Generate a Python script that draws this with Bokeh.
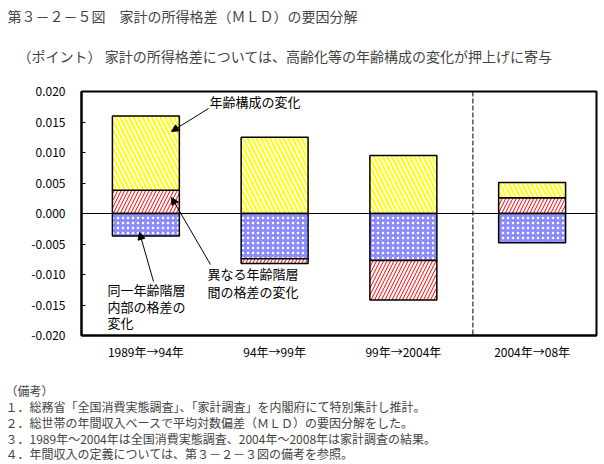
from bokeh.plotting import figure
from bokeh.models import Label, Arrow, NormalHead, Span, FixedTicker, PrintfTickFormatter, Range1d, Title
from bokeh.embed import file_html
from bokeh.resources import INLINE
import numpy as np

FONT = "Noto Sans CJK JP"

categories = ["1989年→94年", "94年→99年", "99年→2004年", "2004年→08年"]
# 同一年齢階層内部の格差の変化 (blue)
within_group = [-0.0037, -0.0074, -0.0077, -0.0048]
# 異なる年齢階層間の格差の変化 (red)
between_group = [0.0038, -0.0008, -0.0065, 0.0026]
# 年齢構成の変化 (yellow)
age_structure = [0.0122, 0.0125, 0.0095, 0.0025]

y_ticks = [-0.020, -0.015, -0.010, -0.005, 0.0, 0.005, 0.010, 0.015, 0.020]

title_text = "第３－２－５図　家計の所得格差（ＭＬＤ）の要因分解"
point_text = "（ポイント） 家計の所得格差については、高齢化等の年齢構成の変化が押上げに寄与"
notes = [
    "　",
    "（備考）",
    "１．総務省「全国消費実態調査」、「家計調査」を内閣府にて特別集計し推計。",
    "２．総世帯の年間収入ベースで平均対数偏差（ＭＬＤ）の要因分解をした。",
    "３．1989年～2004年は全国消費実態調査、2004年～2008年は家計調査の結果。",
    "４．年間収入の定義については、第３－２－３図の備考を参照。",
]

p = figure(width=598, height=464, output_backend="svg", toolbar_location=None,
           x_range=Range1d(0, 4), y_range=Range1d(-0.02, 0.02),
           min_border_left=81, min_border_right=2, min_border_top=91, min_border_bottom=129)
p.background_fill_color = "white"
p.border_fill_color = "white"
p.outline_line_color = "black"
p.outline_line_width = 2
p.xgrid.visible = False
p.ygrid.visible = False

n = len(categories)
xc = np.arange(n) + 0.5
hw = 0.26
pos_base = np.zeros(n)
neg_base = np.zeros(n)

styles = {
    "between": dict(fill_color="white", hatch_pattern="/", hatch_color="red", hatch_weight=1, hatch_scale=7),
    "age": dict(fill_color="white", hatch_pattern="\\", hatch_color="#FFFF00", hatch_weight=2, hatch_scale=9),
    "within": dict(fill_color="#8C8CFF", hatch_pattern=".", hatch_color="white", hatch_weight=1, hatch_scale=5),
}

def stack(vals, key, sign):
    global pos_base, neg_base
    v = np.array(vals)
    if sign > 0:
        v = np.where(v > 0, v, 0)
        bottom = pos_base.copy(); top = pos_base + v
        pos_base = top
    else:
        v = np.where(v < 0, v, 0)
        top = neg_base.copy(); bottom = neg_base + v
        neg_base = bottom
    mask = v != 0
    p.quad(left=(xc - hw)[mask], right=(xc + hw)[mask], bottom=bottom[mask], top=top[mask],
           line_color="black", line_width=1.5, **styles[key])

stack(between_group, "between", 1)
stack(age_structure, "age", 1)
stack(within_group, "within", -1)
stack(between_group, "between", -1)

p.add_layout(Span(location=0, dimension="width", line_color="black", line_width=1.2))
p.add_layout(Span(location=3.04, dimension="height", line_color="black", line_width=1, line_dash="5 2"))

p.xaxis.ticker = FixedTicker(ticks=list(xc))
p.xaxis.major_label_overrides = {float(x): c for x, c in zip(xc, categories)}
p.xaxis.major_tick_line_color = None
p.xaxis.minor_tick_line_color = None
p.xaxis.axis_line_width = 2
p.xaxis.major_label_standoff = 1
p.xaxis.major_label_text_font = FONT
p.xaxis.major_label_text_font_size = "12px"
p.xaxis.major_label_text_color = "black"

p.yaxis.ticker = FixedTicker(ticks=y_ticks)
p.yaxis.formatter = PrintfTickFormatter(format="%.3f")
p.yaxis.major_tick_in = 4
p.yaxis.major_tick_out = 0
p.yaxis.minor_tick_line_color = None
p.yaxis.axis_line_width = 2
p.yaxis.major_label_standoff = 16
p.yaxis.major_label_text_font = FONT
p.yaxis.major_label_text_font_size = "12px"
p.yaxis.major_label_text_color = "black"

def px2x(px):
    return (px - 81) / 128.75

def py2y(py):
    return (213 - py) / 6100.0

def lab(text, px, py, size="13px"):
    p.add_layout(Label(x=px2x(px), y=py2y(py), text=text, text_font=FONT, text_font_size=size,
                       text_baseline="middle", text_align="left", text_color="black"))

lab("年齢構成の変化", 209, 101)
lab("異なる年齢階層", 207, 273)
lab("間の格差の変化", 207, 291)
lab("同一年齢階層", 107, 289)
lab("内部の格差の", 107, 306)
lab("変化", 107, 322)

for (x0, y0, x1, y1) in [(208, 108, 171, 131), (210, 264, 171, 197), (153, 281, 139, 232)]:
    p.add_layout(Arrow(x_start=px2x(x0), y_start=py2y(y0), x_end=px2x(x1), y_end=py2y(y1),
                       line_color="black", line_width=1,
                       end=NormalHead(size=7, fill_color="black", line_color="black")))

p.add_layout(Title(text=point_text, align="left", offset=-64, standoff=52,
                   text_font=FONT, text_font_size="14px", text_font_style="normal"), "above")
p.add_layout(Title(text=title_text, align="left", offset=-74, standoff=-16,
                   text_font=FONT, text_font_size="14px", text_font_style="normal"), "above")

p.add_layout(Title(text="\n".join(notes), align="left", offset=-76, standoff=4,
                   text_font=FONT, text_font_size="12px", text_font_style="normal",
                   text_line_height=0.93), "below")

open("out.html", "w").write(file_html(p, INLINE))
